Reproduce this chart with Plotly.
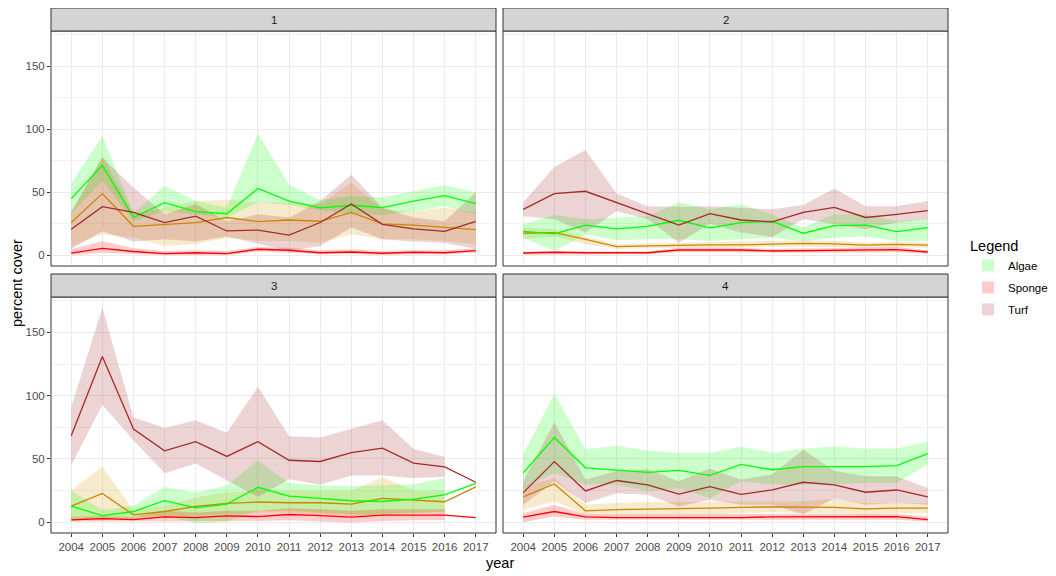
import plotly.graph_objects as go

years = list(range(2004, 2018))

# ---- panel 1 ----
p1_algae    = [45, 71.4, 30, 41.8, 34.7, 33, 53, 43, 37.6, 39.7, 37.8, 43, 47.4, 41]
p1_algae_hi = [57, 94.7, 34, 55, 43, 38, 96.6, 56, 44, 47, 46, 51, 55.6, 50]
p1_algae_lo = [33, 59, 27, 35, 32.5, 30, 42, 40, 36, 32.5, 32, 35, 39, 32.5]
p1_turf     = [20.6, 38.6, 34, 26, 31, 19.3, 20, 16, 26, 40.7, 24.6, 21, 19, 27]
p1_turf_hi  = [35, 77.5, 53.7, 32.5, 40.5, 27, 32.5, 30, 43, 64, 38, 30, 27, 50]
p1_turf_lo  = [5, 19, 11, 12.7, 11, 15, 9, 3.4, 7.4, 22, 12.7, 11, 10, 5]
p1_coral    = [26, 49, 23, 24.6, 26, 30, 26.7, 28, 27, 34, 25, 24, 22.5, 20.4]
p1_coral_hi = [32.5, 79, 32.5, 38, 43, 44, 42, 42, 40.5, 57.7, 36.5, 35, 38, 34]
p1_coral_lo = [7.4, 16.7, 14, 7.4, 8.7, 14, 11.4, 11.4, 10, 16.7, 12.7, 12.7, 11.4, 8.7]
p1_sponge    = [1.8, 5.5, 3, 1.3, 2, 1.3, 4.8, 4, 2, 2.6, 1.6, 2.4, 2, 3.7]
p1_sponge_hi = [4.8, 11.4, 5.6, 3.4, 4, 3.4, 6.6, 6, 4, 4.8, 3.4, 4, 4, 5.6]
p1_sponge_lo = [0.3, 2, 0.8, 0, 0.3, 0, 3, 2, 0.8, 1.3, 0.3, 0.8, 0.8, 2]

# ---- panel 2 ----
p2_algae    = [19, 17, 24, 21, 23, 27.8, 21.7, 26, 27, 17.5, 23.5, 24, 18.8, 22]
p2_algae_hi = [24.6, 32, 28.6, 30, 31, 42, 36.5, 40.5, 32.5, 22, 32.5, 32.5, 27, 28.6]
p2_algae_lo = [14, 3.4, 16.7, 12, 12.7, 12.7, 11.4, 12.7, 14, 11.4, 14, 15, 11.4, 11.4]
p2_turf     = [36.5, 49, 50.8, 42, 33, 24, 33, 28, 26.5, 34, 38, 30, 32.5, 35.5]
p2_turf_hi  = [42, 70, 83.6, 49, 39, 38.6, 39, 38, 36.5, 40, 53, 39, 39, 43]
p2_turf_lo  = [31, 28.6, 18, 35, 28.6, 10, 25, 18, 14.5, 28.6, 24.6, 20.6, 26, 28.6]
p2_coral    = [17.5, 18, 12.7, 6.9, 7.4, 8, 8.2, 8.2, 8.7, 9.5, 9, 8, 8.7, 8]
p2_coral_hi = [22, 20.6, 15, 9, 9.5, 10, 10.5, 10.5, 11, 12, 11.5, 10, 11, 10]
p2_coral_lo = [12.7, 15, 8.7, 5, 5.5, 6, 6, 6, 6.5, 7, 6.5, 6, 6.5, 6]
p2_sponge    = [1.8, 2.4, 2, 2, 2, 4.2, 4.2, 4.2, 3.4, 3.7, 4, 4, 4.5, 2.6]
p2_sponge_hi = [3, 3.5, 3, 3, 3, 6, 6, 6, 5, 5.5, 6, 6, 6.5, 4]
p2_sponge_lo = [0.5, 1, 1, 1, 1, 2.5, 2.5, 2.5, 2, 2, 2, 2, 2.5, 1.5]

# ---- panel 3 (no interval in 2017) ----
p3_algae    = [12.7, 5.3, 8.5, 17, 11.4, 14.3, 27.6, 20.7, 18.8, 17, 16.4, 18.3, 21.7, 30.8]
p3_algae_hi = [25, 9.5, 13, 28, 23.6, 29, 48.8, 31, 29, 28.4, 29, 30, 35, None]
p3_algae_lo = [1.6, 1.6, 3.7, 5, -0.8, 0.5, 9, 9, 7.7, 6.4, 5, 7, 8.5, None]
p3_turf     = [68.4, 131, 73.7, 56.5, 63.7, 52, 63.7, 49, 48, 55, 58.6, 46.7, 43.8, 31.6]
p3_turf_hi  = [91, 169.5, 83, 74.5, 80.6, 70.8, 107, 68, 67, 74, 80.6, 58, 51.5, None]
p3_turf_lo  = [45, 92.6, 64.7, 38.7, 46.4, 33, 20, 34, 29.7, 37, 37, 35, 36, None]
p3_coral    = [12.7, 22.8, 5.8, 8.5, 12.5, 14.9, 16, 15.4, 15.4, 14.3, 18.8, 17.8, 16.2, 28]
p3_coral_hi = [25, 44, 9.5, 13, 19.6, 23.6, 25, 25, 25, 25, 35.5, 25, 25, None]
p3_coral_lo = [1, 2.4, 2.4, 3.7, 5, 6.4, 7.7, 7.7, 6.4, 5, 6.9, 7.7, 7.7, None]
p3_sponge    = [1.9, 2.9, 2.1, 4.2, 3.7, 5, 4.5, 6.1, 5.3, 4, 5.6, 5.6, 5.6, 3.7]
p3_sponge_hi = [4.2, 5, 4.2, 9, 7.7, 9, 9, 11, 10.3, 9, 10.3, 10.3, 10.3, None]
p3_sponge_lo = [0.5, 1, 0.5, 0.5, 0.5, 1, 1, 1.6, 0.5, -0.3, 1, 1.6, 1.6, None]

# ---- panel 4 ----
p4_algae    = [39, 67, 43, 41, 39.4, 41, 37, 45.7, 41.5, 43.9, 43.9, 44, 44.7, 54.3]
p4_algae_hi = [53.7, 101.6, 57.7, 60.4, 56.4, 55, 55, 59.6, 55, 58.2, 59.8, 58.2, 58.2, 63.6]
p4_algae_lo = [27, 39, 29.8, 29.8, 24.5, 27, 19, 32.4, 29.8, 29.8, 29.8, 31, 31, 45.7]
p4_turf     = [23.4, 47.9, 24.7, 33, 29.5, 22.3, 28.2, 22, 25.5, 31.6, 29.5, 23.7, 25.5, 20]
p4_turf_hi  = [32.4, 79, 33.8, 40.4, 41.8, 32.4, 42.5, 33.8, 37.8, 57.2, 40.4, 36.4, 36.4, 27]
p4_turf_lo  = [13.8, 32.4, 15.2, 23, 21.8, 12.5, 17.8, 13.8, 13.8, 6.4, 19, 13.8, 15.2, 13.8]
p4_coral    = [20, 30.3, 9, 10, 10.4, 10.6, 11.2, 11.7, 12.2, 12, 11.7, 10.6, 11.2, 11.2]
p4_coral_hi = [28.5, 35, 13.8, 15.2, 16, 16, 16, 16, 16.5, 16.5, 18.6, 15.2, 15.2, 15.2]
p4_coral_lo = [9.8, 16.5, 5.9, 6.4, 6.4, 6.4, 6.4, 7.2, 8, 7.2, 7.2, 5.9, 7.2, 7.2]
p4_sponge    = [4, 8.5, 4.3, 3.7, 3.7, 3.7, 3.7, 3.7, 4.3, 4.3, 4.3, 4.3, 4.5, 2.1]
p4_sponge_hi = [7.2, 13.8, 6.4, 6.4, 6.4, 6.4, 6.4, 6.4, 6.4, 6.4, 6.4, 6.4, 6.6, 4.5]
p4_sponge_lo = [0, 4.5, 1.9, 1.9, 1.9, 1.9, 1.9, 1.9, 1.9, 1.9, 1.9, 1.9, 1.9, 0.5]

panels = {
    1: [("Coral", p1_coral, p1_coral_lo, p1_coral_hi), ("Algae", p1_algae, p1_algae_lo, p1_algae_hi),
        ("Sponge", p1_sponge, p1_sponge_lo, p1_sponge_hi), ("Turf", p1_turf, p1_turf_lo, p1_turf_hi)],
    2: [("Coral", p2_coral, p2_coral_lo, p2_coral_hi), ("Algae", p2_algae, p2_algae_lo, p2_algae_hi),
        ("Sponge", p2_sponge, p2_sponge_lo, p2_sponge_hi), ("Turf", p2_turf, p2_turf_lo, p2_turf_hi)],
    3: [("Coral", p3_coral, p3_coral_lo, p3_coral_hi), ("Algae", p3_algae, p3_algae_lo, p3_algae_hi),
        ("Sponge", p3_sponge, p3_sponge_lo, p3_sponge_hi), ("Turf", p3_turf, p3_turf_lo, p3_turf_hi)],
    4: [("Coral", p4_coral, p4_coral_lo, p4_coral_hi), ("Algae", p4_algae, p4_algae_lo, p4_algae_hi),
        ("Sponge", p4_sponge, p4_sponge_lo, p4_sponge_hi), ("Turf", p4_turf, p4_turf_lo, p4_turf_hi)],
}

line_col = {"Algae": "#00FF00", "Sponge": "#FF0000", "Turf": "#A52A2A", "Coral": "#CD8500"}
fill_col = {"Algae": "rgba(0,255,0,0.2)", "Sponge": "rgba(255,0,0,0.2)",
            "Turf": "rgba(165,42,42,0.2)", "Coral": "rgba(218,165,32,0.22)"}

# the page puts the plot 8px in from the top-left corner
OFF = 8
W, H = 1056 - OFF, 576 - OFF


def px(x):
    return (x - OFF) / W


def py_(y):
    return 1 - (y - OFF) / H


# panel boxes in screen pixels (left, right, top, bottom)
boxes = {1: (51, 496, 31, 266), 2: (503, 948, 31, 266),
         3: (51, 496, 297, 533), 4: (503, 948, 297, 533)}
strip_h = 23

FONT = "Liberation Sans, Arial, sans-serif"
fig = go.Figure()

for p, series in panels.items():
    xa = "x" if p == 1 else "x%d" % p
    ya = "y" if p == 1 else "y%d" % p
    # ribbons
    for name, mean, lo, hi in series:
        keep = [(x, a, b) for x, a, b in zip(years, lo, hi) if a is not None and b is not None]
        xs = [k[0] for k in keep]
        los = [k[1] for k in keep]
        his = [k[2] for k in keep]
        fig.add_trace(go.Scatter(x=xs + xs[::-1], y=his + los[::-1], fill="toself",
                                 fillcolor=fill_col[name], line=dict(width=0), mode="lines",
                                 hoverinfo="skip", showlegend=False, xaxis=xa, yaxis=ya))
    # lines
    for name, mean, lo, hi in series:
        fig.add_trace(go.Scatter(x=years, y=mean, mode="lines", name=name,
                                 line=dict(color=line_col[name], width=1.3),
                                 showlegend=False, xaxis=xa, yaxis=ya))

# legend keys
for name in ["Algae", "Sponge", "Turf"]:
    fig.add_trace(go.Scatter(x=[None], y=[None], mode="markers", name=name, legendgroup=name,
                             marker=dict(symbol="square", size=18, color=fill_col[name]),
                             showlegend=True))

layout = {}
shapes = []
annotations = []
for p, (l, r, t, b) in boxes.items():
    key = "" if p == 1 else str(p)
    bottom = p in (3, 4)
    left = p in (1, 3)
    layout["xaxis" + key] = dict(
        domain=[px(l), px(r)], range=[2003.35, 2017.65], anchor="y" + key,
        tickvals=years, ticktext=[str(y) for y in years], showticklabels=bottom,
        ticks="outside" if bottom else "", ticklen=3, tickcolor="#333333",
        tickfont=dict(family=FONT, size=11.5, color="#4D4D4D"),
        showgrid=True, gridcolor="#EBEBEB", gridwidth=1, zeroline=False,
        showline=False)
    layout["yaxis" + key] = dict(
        domain=[py_(b), py_(t)], range=[-8.5, 178], anchor="x" if p == 1 else "x" + key,
        tickvals=[0, 50, 100, 150], showticklabels=left,
        ticks="outside" if left else "", ticklen=3, tickcolor="#333333",
        tickfont=dict(family=FONT, size=11.5, color="#4D4D4D"),
        showgrid=True, gridcolor="#EBEBEB", gridwidth=1.1, zeroline=False,
        minor=dict(tickvals=[25, 75, 125, 175], showgrid=True, gridcolor="#F2F2F2", gridwidth=0.7, ticks=""),
        showline=False)
    # panel border
    shapes.append(dict(type="rect", xref="paper", yref="paper", x0=px(l), x1=px(r),
                       y0=py_(b), y1=py_(t), line=dict(color="#333333", width=1),
                       fillcolor="rgba(0,0,0,0)", layer="above"))
    # strip
    shapes.append(dict(type="rect", xref="paper", yref="paper", x0=px(l), x1=px(r),
                       y0=py_(t), y1=py_(t - strip_h), line=dict(color="#333333", width=1),
                       fillcolor="#D4D4D4", layer="above"))
    annotations.append(dict(text=str(p), xref="paper", yref="paper", x=px((l + r) / 2),
                            y=py_(t - strip_h / 2), showarrow=False,
                            font=dict(family=FONT, size=11.5, color="#1A1A1A"),
                            xanchor="center", yanchor="middle"))

annotations.append(dict(text="year", xref="paper", yref="paper", x=px((51 + 948) / 2), y=py_(563),
                        showarrow=False, font=dict(family=FONT, size=14.5, color="black"),
                        xanchor="center", yanchor="middle"))
annotations.append(dict(text="percent cover", xref="paper", yref="paper", x=px(17), y=py_(283),
                        showarrow=False, textangle=-90, font=dict(family=FONT, size=14.5, color="black"),
                        xanchor="center", yanchor="middle"))

fig.update_layout(
    width=W, height=H, margin=dict(l=0, r=0, t=0, b=0),
    paper_bgcolor="white", plot_bgcolor="white",
    shapes=shapes, annotations=annotations,
    legend=dict(x=px(968), y=py_(232), xanchor="left", yanchor="top",
                title=dict(text="Legend", font=dict(family=FONT, size=14.5, color="black")),
                font=dict(family=FONT, size=11.5, color="black"),
                itemsizing="constant", tracegroupgap=3, bgcolor="rgba(0,0,0,0)"),
    **layout,
)

fig.write_html("out.html")
